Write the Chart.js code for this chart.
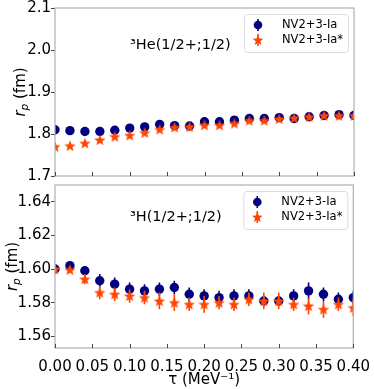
<!DOCTYPE html>
<html>
<head>
<meta charset="utf-8">
<script src="https://cdn.jsdelivr.net/npm/chart.js@4.4.0/dist/chart.umd.min.js"></script>
<style>
  body { margin: 0; background: #fff; width: 374px; height: 389px; overflow: hidden; position: relative; }
  #topBox { position: absolute; left: 0; top: 0; width: 374px; height: 185px; }
  #botBox { position: absolute; left: 0; top: 177px; width: 374px; height: 212px; }
</style>
</head>
<body>
<div id="topBox"><canvas id="heChart"></canvas></div>
<div id="botBox"><canvas id="hChart"></canvas></div>
<script>
// tau values (MeV^-1)
const tau = [0.00, 0.02, 0.04, 0.06, 0.08, 0.10, 0.12, 0.14, 0.16, 0.18, 0.20,
             0.22, 0.24, 0.26, 0.28, 0.30, 0.32, 0.34, 0.36, 0.38, 0.40];

// 3He(1/2+;1/2) proton radius
const heIa      = [1.810, 1.808, 1.806, 1.806, 1.809, 1.814, 1.817, 1.823, 1.820, 1.819, 1.829,
                   1.829, 1.833, 1.837, 1.837, 1.839, 1.837, 1.841, 1.844, 1.846, 1.844];
const heIaErr   = [0.002, 0.002, 0.002, 0.002, 0.002, 0.002, 0.002, 0.002, 0.002, 0.002, 0.002,
                   0.002, 0.002, 0.002, 0.002, 0.002, 0.002, 0.002, 0.002, 0.002, 0.002];
const heIaS     = [1.770, 1.772, 1.778, 1.786, 1.794, 1.797, 1.803, 1.811, 1.816, 1.817, 1.821,
                   1.821, 1.825, 1.832, 1.832, 1.836, 1.838, 1.841, 1.844, 1.844, 1.844];
const heIaSErr  = [0.002, 0.002, 0.002, 0.002, 0.002, 0.002, 0.002, 0.002, 0.002, 0.002, 0.002,
                   0.002, 0.002, 0.002, 0.002, 0.002, 0.002, 0.002, 0.002, 0.002, 0.002];

// 3H(1/2+;1/2) proton radius
const hIa       = [1.600, 1.602, 1.599, 1.593, 1.591, 1.588, 1.587, 1.588, 1.589, 1.585, 1.584,
                   1.583, 1.584, 1.584, 1.581, 1.581, 1.584, 1.587, 1.585, 1.582, 1.583];
const hIaErr    = [0.001, 0.002, 0.002, 0.004, 0.004, 0.004, 0.004, 0.004, 0.004, 0.004, 0.004,
                   0.004, 0.004, 0.004, 0.003, 0.003, 0.004, 0.005, 0.004, 0.004, 0.004];
const hIaS      = [1.600, 1.5996, 1.594, 1.586, 1.585, 1.584, 1.583, 1.581, 1.580, 1.579, 1.579,
                   1.580, 1.579, 1.582, 1.581, 1.581, 1.579, 1.578, 1.576, 1.579, 1.577];
const hIaSErr   = [0.001, 0.002, 0.003, 0.004, 0.004, 0.004, 0.004, 0.005, 0.005, 0.004, 0.005,
                   0.004, 0.004, 0.004, 0.005, 0.005, 0.004, 0.005, 0.005, 0.004, 0.005];

const seriesNames = ['NV2+3-Ia', 'NV2+3-Ia*'];
const xTicks  = [0.00, 0.05, 0.10, 0.15, 0.20, 0.25, 0.30, 0.35, 0.40];
const heTicks = [1.7, 1.8, 1.9, 2.0, 2.1];
const hTicks  = [1.56, 1.58, 1.60, 1.62, 1.64];

const NAVY = '#000080';
const ORANGE = '#ff4500';
const FONT = 'DejaVu Sans';
Chart.defaults.font.family = FONT;

function starPath(ctx, cx, cy, R, r) {
  ctx.beginPath();
  for (let i = 0; i < 10; i++) {
    const a = -Math.PI / 2 + i * Math.PI / 5;
    const rad = i % 2 ? r : R;
    ctx.lineTo(cx + rad * Math.cos(a), cy + rad * Math.sin(a));
  }
  ctx.closePath();
}

// filled 5-point star used as point style
const starImg = document.createElement('canvas');
starImg.width = 14; starImg.height = 14;
(function () {
  const c = starImg.getContext('2d');
  c.fillStyle = ORANGE;
  starPath(c, 7, 7.5, 6, 2.6);
  c.fill();
})();

const toPts = (ys) => tau.map((t, i) => ({ x: t, y: ys[i] }));

// error bars + frame + labels + legend
const decoPlugin = {
  id: 'deco',
  beforeDatasetDraw(chart, args) {
    const ds = chart.data.datasets[args.index];
    const ys = chart.scales.y;
    const ctx = chart.ctx;
    const a = chart.chartArea;
    ctx.save();
    ctx.beginPath();
    ctx.rect(a.left, a.top, a.right - a.left, a.bottom - a.top);
    ctx.clip();
    ctx.strokeStyle = ds.errColor;
    ctx.lineWidth = 1.6;
    args.meta.data.forEach((pt, i) => {
      const v = ds.data[i].y, e = ds.err[i];
      ctx.beginPath();
      ctx.moveTo(pt.x, ys.getPixelForValue(v - e));
      ctx.lineTo(pt.x, ys.getPixelForValue(v + e));
      ctx.stroke();
    });
    ctx.restore();
  },
  afterDraw(chart, args, opts) {
    const ctx = chart.ctx;
    const a = chart.chartArea;
    const xs = chart.scales.x;
    ctx.save();
    // frame
    ctx.strokeStyle = '#b0b0b0';
    ctx.lineWidth = 1.2;
    ctx.strokeRect(a.left, a.top, a.right - a.left, a.bottom - a.top);
    // inward x ticks
    ctx.strokeStyle = '#444';
    ctx.lineWidth = 1;
    xTicks.forEach(t => {
      const px = Math.round(xs.getPixelForValue(t)) + 0.5;
      ctx.beginPath();
      ctx.moveTo(px, a.bottom);
      ctx.lineTo(px, a.bottom - 4);
      ctx.stroke();
    });
    // y label: r_p (fm)
    const cy = (a.top + a.bottom) / 2;
    ctx.translate(opts.labelX, cy);
    ctx.rotate(-Math.PI / 2);
    ctx.fillStyle = '#000';
    ctx.textBaseline = 'alphabetic';
    ctx.font = 'italic 15px ' + FONT;
    const wr = ctx.measureText('r').width;
    ctx.font = 'italic 10.5px ' + FONT;
    const wp = ctx.measureText('p').width;
    ctx.font = '15px ' + FONT;
    const wf = ctx.measureText(' (fm)').width;
    let x0 = -(wr + wp + wf) / 2;
    ctx.font = 'italic 15px ' + FONT;
    ctx.fillText('r', x0, 0);
    ctx.font = 'italic 10.5px ' + FONT;
    ctx.fillText('p', x0 + wr, 3);
    ctx.font = '15px ' + FONT;
    ctx.fillText(' (fm)', x0 + wr + wp, 0);
    ctx.restore();

    ctx.save();
    // annotation
    ctx.fillStyle = '#000';
    ctx.font = '14.5px ' + FONT;
    ctx.textBaseline = 'middle';
    ctx.fillText(opts.note, 130, a.top + opts.noteDy);

    // legend
    const bw = 104, bh = 38;
    const bx = a.right - 6 - bw, by = a.top + 6;
    ctx.fillStyle = 'rgba(255,255,255,0.8)';
    ctx.strokeStyle = '#dcdcdc';
    ctx.lineWidth = 1;
    ctx.beginPath();
    ctx.roundRect(bx + 0.5, by + 0.5, bw, bh, 3);
    ctx.fill();
    ctx.stroke();
    const mx = bx + 14;
    const r1 = by + 11, r2 = by + 26;
    ctx.strokeStyle = NAVY; ctx.lineWidth = 1.6;
    ctx.beginPath(); ctx.moveTo(mx, r1 - 6); ctx.lineTo(mx, r1 + 6); ctx.stroke();
    ctx.fillStyle = NAVY;
    ctx.beginPath(); ctx.arc(mx, r1, 4.3, 0, Math.PI * 2); ctx.fill();
    ctx.strokeStyle = ORANGE;
    ctx.beginPath(); ctx.moveTo(mx, r2 - 6); ctx.lineTo(mx, r2 + 6); ctx.stroke();
    ctx.fillStyle = ORANGE;
    starPath(ctx, mx, r2 + 0.5, 5.6, 2.4); ctx.fill();
    ctx.fillStyle = '#000';
    ctx.font = '11.5px ' + FONT;
    ctx.textBaseline = 'middle';
    ctx.fillText(seriesNames[0], bx + 38, r1 + 0.5);
    ctx.fillText(seriesNames[1], bx + 38, r2 + 0.5);

    // x title
    if (opts.xTitle) {
      ctx.font = '15px ' + FONT;
      ctx.textAlign = 'center';
      ctx.textBaseline = 'middle';
      ctx.fillText('τ (MeV⁻¹)', (a.left + a.right) / 2, a.bottom + 32);
    }
    ctx.restore();
  }
};

function makeChart(id, d1, e1, d2, e2, yMin, yMax, yTicks, yDigits, showX, note, noteDy, xAxisH, labelX) {
  return new Chart(document.getElementById(id), {
    type: 'scatter',
    data: {
      datasets: [
        { label: seriesNames[1], data: toPts(d2), err: e2, errColor: ORANGE,
          pointStyle: starImg, clip: 0, order: 0 },
        { label: seriesNames[0], data: toPts(d1), err: e1, errColor: NAVY,
          pointStyle: 'circle', pointRadius: 4.7, backgroundColor: NAVY,
          borderColor: NAVY, borderWidth: 0, clip: 0, order: 1 }
      ]
    },
    options: {
      responsive: true,
      maintainAspectRatio: false,
      animation: false,
      layout: { padding: { top: 8, right: 20, left: 0, bottom: 0 } },
      plugins: {
        legend: { display: false },
        tooltip: { enabled: false },
        deco: { note: note, noteDy: noteDy, xTitle: showX, labelX: labelX }
      },
      scales: {
        x: {
          type: 'linear', min: 0, max: 0.4,
          afterBuildTicks: s => { s.ticks = xTicks.map(v => ({ value: v })); },
          afterFit: s => { s.height = xAxisH; },
          grid: { display: false },
          border: { display: false },
          ticks: {
            display: showX, padding: 4, color: '#000',
            font: { size: 15, lineHeight: 1 },
            maxRotation: 0, autoSkip: false,
            callback: v => v.toFixed(2)
          }
        },
        y: {
          min: yMin, max: yMax,
          afterBuildTicks: s => { s.ticks = yTicks.map(v => ({ value: v })); },
          afterFit: s => { s.width = 55; },
          grid: { drawOnChartArea: false, drawTicks: true, tickLength: 4, color: '#444' },
          border: { display: false },
          ticks: {
            padding: 0, color: '#000',
            font: { size: 15, lineHeight: 1 },
            callback: v => v.toFixed(yDigits)
          }
        }
      }
    },
    plugins: [decoPlugin]
  });
}

makeChart('heChart', heIa, heIaErr, heIaS, heIaSErr, 1.7, 2.1, heTicks, 1, false,
          '³He(1/2+;1/2)', 37, 9, 25);
makeChart('hChart', hIa, hIaErr, hIaS, hIaSErr, 1.553, 1.65, hTicks, 2, true,
          '³H(1/2+;1/2)', 32, 41, 17);
</script>
</body>
</html>
